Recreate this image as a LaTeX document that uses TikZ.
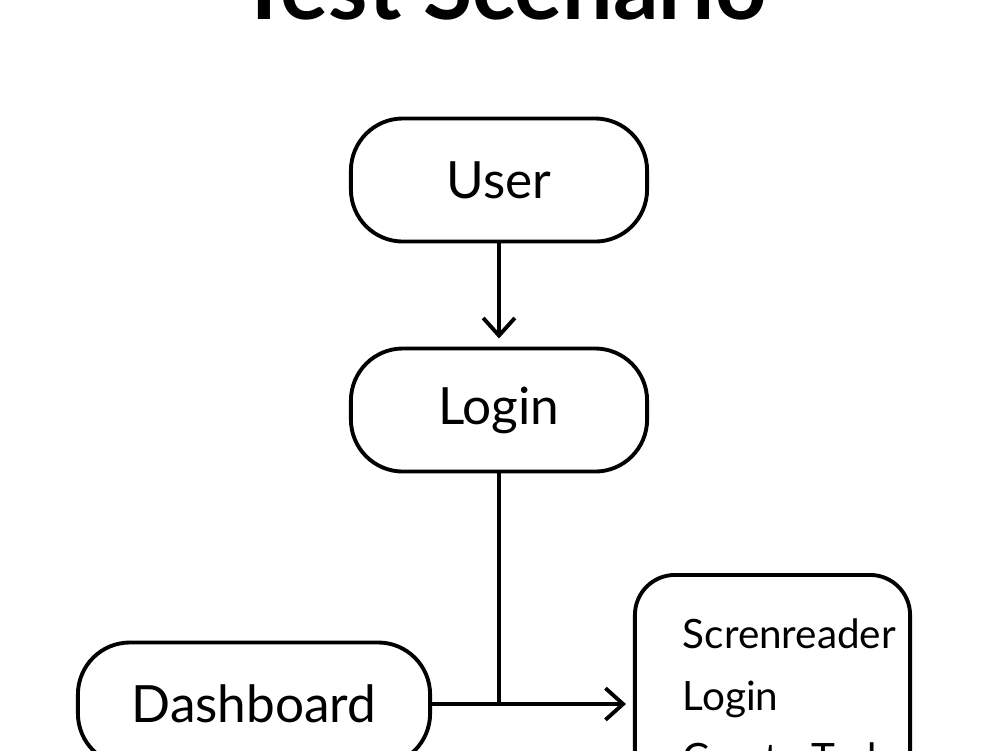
\documentclass[tikz,border=0pt]{standalone}
\usepackage{fontspec}
\setmainfont{Lato}
\usetikzlibrary{arrows.meta}
\begin{document}
\begin{tikzpicture}[x=0.01cm,y=-0.01cm,
  line width=1.1pt,
  pill/.style={draw, rounded corners=0.52cm, minimum width=2.96cm, minimum height=1.23cm,
    inner sep=0pt, font=\fontsize{14.6}{17}\selectfont},
  panel/.style={draw, rounded corners=0.4cm, minimum width=2.75cm, minimum height=2.6cm, inner sep=0pt},
  item/.style={anchor=base west, inner sep=0pt, font=\fontsize{11.5}{14}\selectfont},
  flow/.style={-{Straight Barb[length=5pt,width=9pt]}, line cap=round, line join=round}]
  \useasboundingbox[fill=white] (0,0) rectangle (1000,750);

  % title
  \node[anchor=base, inner sep=0pt, font=\bfseries\fontsize{25.5}{29}\selectfont] (title) at (502,19) {Test Scenario};

  % flow nodes
  \node[pill] (user) at (499,180) {User};
  \node[pill] (login) at (499,410) {Login};
  \node[pill, minimum width=3.52cm] (dash) at (254,704) {Dashboard};

  % task panel
  \node[panel] (tasks) at (772.5,705) {};
  \node[item] (t1) at (681,648) {Screnreader};
  \node[item] (t2) at (681,710) {Login};
  \node[item] (t3) at (681,772) {Create Task};

  % connectors
  \draw[flow, shorten >=2.3pt] (user) -- (login);
  \draw (login.south) -- (login.south |- dash.east);
  \draw[flow, shorten >=2pt] (dash.east) -- (tasks.west |- dash.east);
\end{tikzpicture}
\end{document}
